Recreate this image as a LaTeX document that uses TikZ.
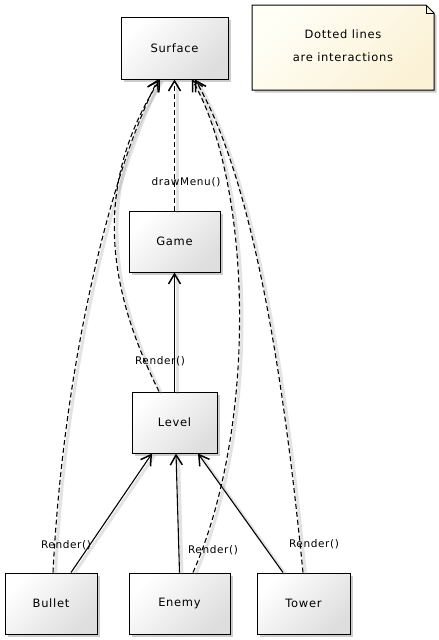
\documentclass[tikz,border=0pt]{standalone}
\usepackage{fontspec}
\setmainfont{DejaVu Sans}[LetterSpace=6]
\usetikzlibrary{arrows.meta,shadows,calc}
\definecolor{boxend}{HTML}{DEDEDE}
\definecolor{notetop}{HTML}{FFFFF6}
\definecolor{notebot}{HTML}{FBF1D6}
\begin{document}
\begin{tikzpicture}[x=1pt,y=-1pt,
  cls/.style={draw=black, line width=1pt, top color=white, bottom color=boxend, shading angle=45,
    minimum height=61pt, inner sep=0pt, font=\fontsize{11.5}{13}\selectfont,
    drop shadow={shadow xshift=2.5pt,shadow yshift=-2.5pt,opacity=0.2,fill=black}},
  notebox/.style={draw=black, line width=1pt, top color=notetop, bottom color=notebot, shading angle=45,
    drop shadow={shadow xshift=2.5pt,shadow yshift=-2.5pt,opacity=0.2,fill=black}},
  flow/.style={line width=1.1pt, -{Straight Barb[length=10pt,width=12pt,line width=1.5pt]},
    preaction={draw=black!50, line width=3pt, opacity=0.22, -, solid,
      transform canvas={shift={(2.5pt,-2pt)}}}},
  msg/.style={flow, dash pattern=on 5pt off 3pt},
  lbl/.style={inner sep=0pt, font=\fontsize{10.5}{12}\selectfont}]
\fill[white] (0,0) rectangle (439,640);
\useasboundingbox (0,0) rectangle (439,640);

% note
\coordinate (nnw) at (252,5);
\coordinate (nse) at (434,90);
\draw[notebox] (nnw) -- ($(nnw -| nse)+(-8pt,0)$) -- ($(nnw -| nse)+(0,-8pt)$) -- (nse) -- (nse -| nnw) -- cycle;
\draw[line width=1pt] ($(nnw -| nse)+(-8pt,0)$) -- ($(nnw -| nse)+(-8pt,-8pt)$) -- ($(nnw -| nse)+(0,-8pt)$);
\node[align=center, font=\fontsize{11.5}{23}\selectfont] (note) at (343,46) {Dotted lines\\are interactions};

% classes
\node[cls, minimum width=107pt, minimum height=62pt] (surface) at (174.5,48) {Surface};
\node[cls, minimum width=91pt] (game) at (174.5,241.5) {Game};
\node[cls, minimum width=85pt] (level) at (174.5,422.5) {Level};
\node[cls, minimum width=92pt] (bullet) at (51,603.5) {Bullet};
\node[cls, minimum width=101pt] (enemy) at (179.5,603.5) {Enemy};
\node[cls, minimum width=93pt] (tower) at (303.5,603.5) {Tower};

% solid associations
\draw[flow] (level.north) -- (game.south);
\draw[flow] ([xshift=20pt]bullet.north) -- ([xshift=-22.5pt]level.south);
\draw[flow] (enemy.north) -- ([xshift=1.5pt]level.south);
\draw[flow] ([xshift=-20.5pt]tower.north) -- ([xshift=23.5pt]level.south);

% interactions
\draw[msg] (game.north) -- (surface.south);
\draw[msg] ([xshift=2pt]bullet.north) .. controls +(10,-200) and +(-50,100) .. ([xshift=-16.5pt]surface.south);
\draw[msg] ([xshift=-15.5pt]level.north) .. controls +(-56,-112) and +(-64,101) .. ([xshift=-14.5pt]surface.south);
\draw[msg] ([xshift=13.5pt]enemy.north) .. controls +(67,-153) and +(58,101) .. ([xshift=17.5pt]surface.south);
\draw[msg] ([xshift=-0.5pt]tower.north) .. controls +(-15,-150) and +(65,111) .. ([xshift=20.5pt]surface.south);

% labels
\node[lbl] (m1) at (186,182) {drawMenu()};
\node[lbl] (r1) at (160,361) {Render()};
\node[lbl] (r2) at (66,545) {Render()};
\node[lbl] (r3) at (213,550) {Render()};
\node[lbl] (r4) at (314,544) {Render()};
\end{tikzpicture}
\end{document}
